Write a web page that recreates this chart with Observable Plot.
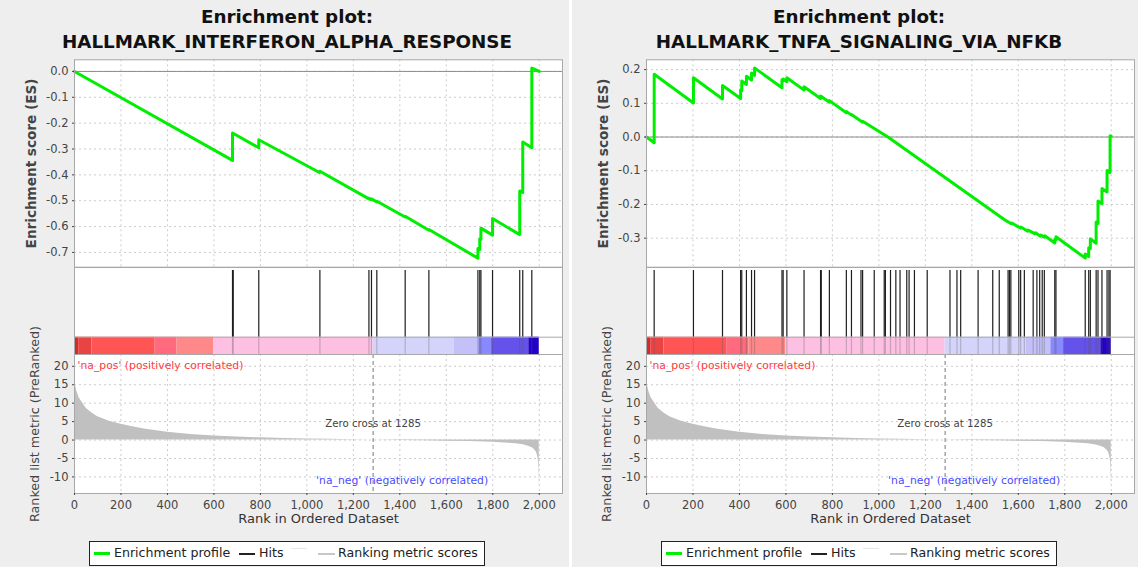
<!DOCTYPE html>
<html>
<head>
<meta charset="utf-8">
<script src="https://cdn.jsdelivr.net/npm/d3@7"></script>
<script src="https://cdn.jsdelivr.net/npm/@observablehq/plot@0.6"></script>
<style>
  body { margin: 0; background: #ffffff; font-family: "DejaVu Sans", sans-serif; }
  #root { position: relative; width: 1138px; height: 567px; overflow: hidden; background: #ffffff; }
  .panel { position: absolute; top: 0; height: 567px; background: #eeeeee; }
  .t1, .t2 { position: absolute; left: 0; width: 574px; text-align: center; font-weight: bold;
             font-size: 18.3px; color: #111; white-space: nowrap; }
  .t1 { top: 6px; } .t2 { top: 31px; }
  .legend { position: absolute; left: 89px; top: 541px; width: 394px; height: 23px;
            border: 1.5px solid #222; background: #fff; font-size: 12.6px; color: #222; }
  .legend span { position: absolute; }
  .legend .txt { top: 3px; white-space: nowrap; }
  .legend .sw { height: 3px; }
</style>
</head>
<body>
<div id="root"></div>
<script>
// ---------------- data ----------------
const xTicks = [0, 200, 400, 600, 800, 1000, 1200, 1400, 1600, 1800, 2000];
const zeroCross = 1285;

// Ranked list metric (shared ranked list) sampled along rank
const metricRank  = [0, 5, 10, 20, 30, 50, 75, 100, 150, 200, 250, 300, 400, 500, 600, 700, 800, 900, 1000, 1100, 1200, 1285, 1400, 1500, 1600, 1700, 1800, 1850, 1900, 1930, 1950, 1970, 1980, 1988, 1993, 1996, 1998, 1999, 2000];
const metricValue = [16.2, 14.5, 13.2, 11.5, 10.5, 8.6, 7.3, 6.3, 5.1, 4.3, 3.6, 3.0, 2.1, 1.5, 1.1, 0.8, 0.6, 0.4, 0.3, 0.2, 0.1, 0, -0.1, -0.2, -0.3, -0.4, -0.6, -0.8, -1.0, -1.3, -1.6, -2.1, -2.6, -3.3, -4.3, -5.5, -7.5, -9.5, -13.2];
const metricTicks = [20, 15, 10, 5, 0, -5, -10];

// Colour bar segments of the ranked list
const barStart = [0, 18, 75, 345, 440, 600, 1285, 1635, 1740, 1795, 1955];
const barEnd   = [18, 75, 345, 440, 600, 1285, 1635, 1740, 1795, 1955, 2000];
const barColor = ["#d42a2a", "#e84444", "#ff5555", "#ff6a7c", "#ff8888", "#fdbfe2", "#d4d4fa", "#c4c0f8", "#8888ff", "#6452ea", "#2400c8"];

// HALLMARK_INTERFERON_ALPHA_RESPONSE
const ifnHits = [680, 683, 793, 1056, 1267, 1278, 1301, 1423, 1525, 1736, 1744, 1749, 1799, 1916, 1929, 1968];
const ifnEsRank  = [0, 680, 680, 793, 793, 1054, 1056, 1267, 1267, 1278, 1278, 1301, 1301, 1423, 1423, 1525, 1525, 1736, 1736, 1744, 1744, 1749, 1749, 1799, 1799, 1916, 1916, 1929, 1929, 1968, 1968, 2000];
const ifnEsValue = [0, -0.344, -0.238, -0.295, -0.264, -0.391, -0.386, -0.493, -0.490, -0.496, -0.493, -0.505, -0.502, -0.563, -0.560, -0.614, -0.611, -0.722, -0.685, -0.689, -0.647, -0.650, -0.606, -0.633, -0.569, -0.631, -0.462, -0.468, -0.273, -0.295, 0.013, 0.0];
const ifnEsTicks = [0, -0.1, -0.2, -0.3, -0.4, -0.5, -0.6, -0.7];

// HALLMARK_TNFA_SIGNALING_VIA_NFKB
const tnfHits = [33, 202, 327, 405, 410, 430, 452, 465, 583, 588, 604, 678, 749, 752, 787, 860, 882, 923, 930, 980, 1023, 1028, 1050, 1073, 1091, 1120, 1130, 1153, 1208, 1306, 1336, 1352, 1427, 1490, 1518, 1556, 1562, 1568, 1602, 1610, 1626, 1664, 1680, 1692, 1703, 1712, 1757, 1762, 1888, 1903, 1910, 1935, 1943, 1960, 1982, 1990, 1995];
const tnfEsRank  = [0, 33, 33, 202, 202, 327, 327, 405, 405, 410, 410, 430, 430, 452, 452, 465, 465, 583, 583, 588, 588, 604, 604, 678, 678, 749, 749, 787, 787, 860, 860, 882, 882, 930, 930, 1039, 1547, 1570, 1572, 1609, 1611, 1640, 1642, 1672, 1674, 1695, 1697, 1712, 1714, 1757, 1757, 1762, 1762, 1888, 1888, 1903, 1903, 1910, 1910, 1935, 1935, 1943, 1943, 1960, 1960, 1982, 1982, 1995, 1995, 2000];
const tnfEsValue = [0, -0.017, 0.186, 0.101, 0.176, 0.113, 0.153, 0.114, 0.140, 0.137, 0.166, 0.156, 0.180, 0.169, 0.190, 0.183, 0.205, 0.146, 0.170, 0.167, 0.172, 0.164, 0.176, 0.139, 0.149, 0.114, 0.122, 0.103, 0.108, 0.072, 0.076, 0.065, 0.067, 0.044, 0.047, 0, -0.248, -0.257, -0.255, -0.270, -0.267, -0.279, -0.276, -0.287, -0.284, -0.294, -0.291, -0.297, -0.293, -0.314, -0.303, -0.305, -0.296, -0.359, -0.347, -0.354, -0.328, -0.331, -0.302, -0.315, -0.252, -0.256, -0.190, -0.198, -0.153, -0.163, -0.099, -0.105, 0.004, 0.002];
const tnfEsTicks = [0.2, 0.1, 0, -0.1, -0.2, -0.3];

const panels = [
  {left: 0,   width: 569, name: "HALLMARK_INTERFERON_ALPHA_RESPONSE", hits: ifnHits, esRank: ifnEsRank, esValue: ifnEsValue, esTicks: ifnEsTicks, esDomain: [-0.757, 0.045]},
  {left: 572, width: 566, name: "HALLMARK_TNFA_SIGNALING_VIA_NFKB",   hits: tnfHits, esRank: tnfEsRank, esValue: tnfEsValue, esTicks: tnfEsTicks, esDomain: [-0.386, 0.229]}
];

// ---------------- layout constants ----------------
const FL = 74, FR = 562;           // frame left / right inside a panel
const xDomain = [0, 2100];
const gridStyle = {stroke: "#cccccc", strokeOpacity: 1, strokeDasharray: "2,3"};
const baseStyle = {fontFamily: "DejaVu Sans, sans-serif", fontSize: "11px", color: "#444", background: "transparent", overflow: "visible"};
const fmt1 = d => d.toFixed(1);
const fmtInt = d => String(d);

const root = document.getElementById("root");

for (const p of panels) {
  const div = document.createElement("div");
  div.className = "panel";
  div.style.left = p.left + "px";
  div.style.width = p.width + "px";
  root.appendChild(div);

  const t1 = document.createElement("div"); t1.className = "t1"; t1.textContent = "Enrichment plot:"; div.appendChild(t1);
  const t2 = document.createElement("div"); t2.className = "t2"; t2.textContent = p.name; div.appendChild(t2);

  const W = p.width;
  const esData = p.esRank.map((r, i) => ({rank: r, es: p.esValue[i]}));

  // ---- Enrichment score plot ----
  const es = Plot.plot({
    width: W, height: 217.7, marginTop: 10.3, marginBottom: 0, marginLeft: FL, marginRight: W - FR,
    style: baseStyle,
    x: {domain: xDomain, axis: null},
    y: {domain: p.esDomain, axis: null},
    marks: [
      Plot.frame({fill: "#ffffff"}),
      Plot.gridX(xTicks, gridStyle),
      Plot.gridY(p.esTicks, gridStyle),
      Plot.ruleY([0], {stroke: "#8c8c8c", strokeWidth: 1}),
      Plot.line(esData, {x: "rank", y: "es", stroke: "#00ee00", strokeWidth: 3, strokeLinejoin: "round"}),
      Plot.frame({stroke: "#a8a8a8"}),
      Plot.axisY(p.esTicks, {tickSize: 2, tickPadding: 4, tickFormat: fmt1, label: null, fontSize: 11.5}),
      Plot.text(["Enrichment score (ES)"], {frameAnchor: "left", textAnchor: "middle", rotate: -90, dx: -43, fontWeight: "bold", fontSize: 13.6, fill: "#444"})
    ]
  });
  es.style.position = "absolute"; es.style.left = "0px"; es.style.top = "49px";
  div.appendChild(es);

  // ---- Hits + colour bar ----
  const hitsPlot = Plot.plot({
    width: W, height: 87.3, marginTop: 0, marginBottom: 0, marginLeft: FL, marginRight: W - FR,
    style: baseStyle,
    x: {domain: xDomain, axis: null},
    y: {domain: [0, 87.3], axis: null},
    color: {type: "identity"},
    marks: [
      Plot.frame({fill: "#ffffff"}),
      Plot.rect(barStart, {x1: barStart, x2: barEnd, y1: 0, y2: 17.6, fill: barColor}),
      Plot.ruleX(p.hits, {y1: 17.6, y2: 84.3, stroke: "#1e1e1e", strokeWidth: 1.2}),
      Plot.ruleX(p.hits, {y1: 0, y2: 17.6, stroke: "#555", strokeOpacity: 0.3, strokeWidth: 1.2}),
      Plot.ruleY([17.6], {stroke: "#a8a8a8"}),
      Plot.frame({stroke: "#a8a8a8"})
    ]
  });
  hitsPlot.style.position = "absolute"; hitsPlot.style.left = "0px"; hitsPlot.style.top = "267px";
  div.appendChild(hitsPlot);

  // ---- Ranked list metric ----
  const metricData = metricRank.map((r, i) => ({rank: r, v: metricValue[i]}));
  const mp = Plot.plot({
    width: W, height: 185, marginTop: 0, marginBottom: 46, marginLeft: FL, marginRight: W - FR,
    style: baseStyle,
    x: {domain: xDomain, axis: null},
    y: {domain: [-14.5, 23.2], axis: null},
    marks: [
      Plot.frame({fill: "#ffffff"}),
      Plot.gridX(xTicks, gridStyle),
      Plot.gridY(metricTicks, gridStyle),
      Plot.areaY(metricData, {x: "rank", y: "v", fill: "#c0c0c0"}),
      Plot.ruleX([zeroCross], {stroke: "#777", strokeDasharray: "4,3"}),
      Plot.text(["Zero cross at " + zeroCross], {x: [zeroCross], y: [4.3], fontSize: 10.2, fill: "#444"}),
      Plot.text(["'na_pos' (positively correlated)"], {frameAnchor: "top-left", dx: 3, dy: 6.7, textAnchor: "start", fontSize: 10.8, fill: "#ff3c3c"}),
      Plot.text(["'na_neg' (negatively correlated)"], {x: [1780], frameAnchor: "bottom", dy: -9.3, textAnchor: "end", fontSize: 10.8, fill: "#4a4aff"}),
      Plot.frame({stroke: "#a8a8a8"}),
      Plot.axisY(metricTicks, {tickSize: 2, tickPadding: 4, tickFormat: fmtInt, label: null, fontSize: 11.5}),
      Plot.axisX(xTicks, {tickSize: 2, tickPadding: 5, tickFormat: d3.format(","), label: null, fontSize: 11.5}),
      Plot.text(["Rank in Ordered Dataset"], {frameAnchor: "bottom", dy: 29.7, fontSize: 13, fill: "#333"}),
      Plot.text(["Ranked list metric (PreRanked)"], {frameAnchor: "left", textAnchor: "middle", rotate: -90, dx: -40, fontSize: 12.7, fill: "#444"})
    ]
  });
  mp.style.position = "absolute"; mp.style.left = "0px"; mp.style.top = "354.3px";
  div.appendChild(mp);

  // ---- Legend ----
  const lg = document.createElement("div");
  lg.className = "legend";
  lg.innerHTML =
    '<span class="sw" style="left:4px;top:10px;width:16px;background:#00ee00"></span>' +
    '<span class="txt" style="left:24px">Enrichment profile</span>' +
    '<span class="sw" style="left:149px;top:10.5px;width:16px;height:2px;background:#222"></span>' +
    '<span class="txt" style="left:169px">Hits</span>' +
    '<span class="sw" style="left:201px;top:6px;width:16px;height:1px;background:#e6e6e6"></span>' +
    '<span class="sw" style="left:228px;top:10.5px;width:17px;height:2px;background:#c8c8c8"></span>' +
    '<span class="txt" style="left:248px">Ranking metric scores</span>';
  div.appendChild(lg);
}
</script>
</body>
</html>
